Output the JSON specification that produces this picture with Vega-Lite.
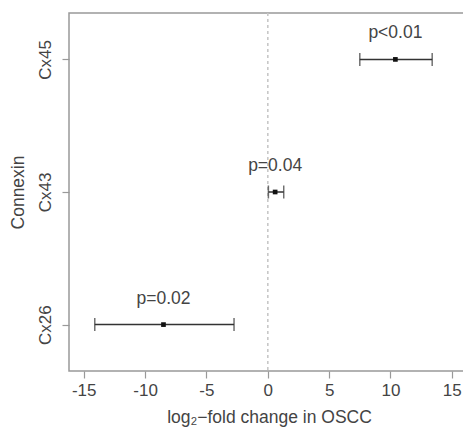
{
  "$schema": "https://vega.github.io/schema/vega-lite/v6.json",
  "autosize": "none",
  "padding": {"left": 69, "top": 13, "right": 0, "bottom": 56},
  "width": 400,
  "height": 358,
  "config": {
    "font": "Liberation Sans",
    "view": {"stroke": "#999", "strokeWidth": 1.5},
    "axis": {"labelColor": "#444", "titleColor": "#444", "tickColor": "#999", "labelFontSize": 17, "titleFontSize": 17.5, "titleFontWeight": "normal", "grid": false, "domain": false, "tickSize": 7, "tickWidth": 1.2}
  },
  "data": {"values": [
    {"gene": "Cx45", "est": 10.4, "lo": 7.5, "hi": 13.4, "p": "p<0.01"},
    {"gene": "Cx43", "est": 0.6, "lo": 0.05, "hi": 1.3, "p": "p=0.04"},
    {"gene": "Cx26", "est": -8.5, "lo": -14.1, "hi": -2.75, "p": "p=0.02"}
  ]},
  "encoding": {
    "y": {"field": "gene", "type": "ordinal", "sort": ["Cx45", "Cx43", "Cx26"],
      "scale": {"type": "point", "padding": 0.35},
      "axis": {"title": "Connexin", "labelAngle": -90, "labelAlign": "center", "labelBaseline": "bottom", "labelPadding": 8, "titlePadding": 9}}
  },
  "layer": [
    {
      "mark": {"type": "rule", "color": "#c8c8c8", "strokeDash": [3, 3], "strokeWidth": 1},
      "encoding": {"x": {"datum": 0, "type": "quantitative"}, "y": null}
    },
    {
      "mark": {"type": "rule", "color": "#333", "strokeWidth": 1.5},
      "encoding": {
        "x": {"field": "lo", "type": "quantitative",
          "scale": {"domain": [-16.2, 16.4], "nice": false, "zero": false},
          "axis": {"title": "log₂−fold change in OSCC", "values": [-15, -10, -5, 0, 5, 10, 15], "labelExpr": "replace(datum.label, '−', '-')", "labelPadding": 4, "titlePadding": 10}},
        "x2": {"field": "hi"}
      }
    },
    {
      "mark": {"type": "tick", "color": "#333", "size": 13, "thickness": 1.5, "orient": "vertical"},
      "encoding": {"x": {"field": "lo", "type": "quantitative"}}
    },
    {
      "mark": {"type": "tick", "color": "#333", "size": 13, "thickness": 1.5, "orient": "vertical"},
      "encoding": {"x": {"field": "hi", "type": "quantitative"}}
    },
    {
      "mark": {"type": "point", "shape": "square", "filled": true, "color": "#111", "opacity": 1, "size": 22},
      "encoding": {"x": {"field": "est", "type": "quantitative"}}
    },
    {
      "mark": {"type": "text", "fontSize": 17.5, "color": "#444", "dy": -26, "baseline": "middle"},
      "encoding": {"x": {"field": "est", "type": "quantitative"}, "text": {"field": "p"}}
    }
  ]
}
